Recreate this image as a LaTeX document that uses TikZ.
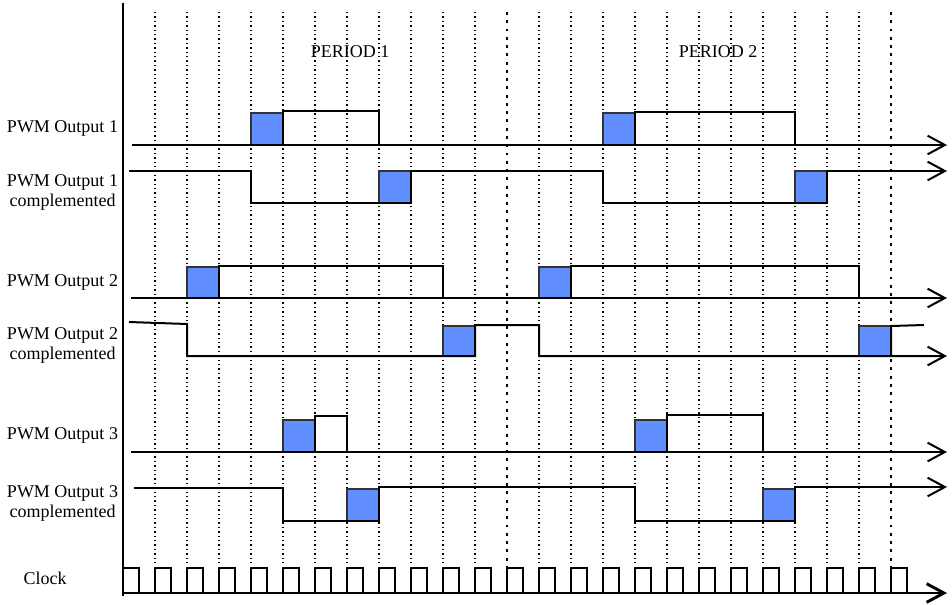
\documentclass[tikz,border=0pt]{standalone}
\usepackage{fontspec}
\setmainfont{Liberation Serif}
\usetikzlibrary{arrows.meta}
\definecolor{cajaazul}{RGB}{97,142,255}

\begin{document}
\begin{tikzpicture}[x=0.75pt, y=-0.75pt, >={Straight Barb[length=13pt,width=14pt]}, line width=1.5pt,
  caja/.style={fill=cajaazul, draw=black!80, line width=0.8pt},
  rejilla/.style={line width=1.1pt, dash pattern=on 1.1pt off 2.2pt},
  periodo/.style={line width=2.2pt, dash pattern=on 2.2pt off 4pt},
  reloj/.style={line width=1.1pt},
  etiqueta/.style={font=\fontsize{13.5}{15}\selectfont, align=center, inner sep=0pt}]
  \useasboundingbox (0,0) rectangle (952,604);
  % rejilla de ciclos de reloj
  \foreach \x in {155,187,...,475,539,571,...,859}
    \draw[rejilla] (\x,12) -- (\x,566);
  \draw[periodo] (507,12) -- (507,566);
  \draw[periodo] (891,12) -- (891,566);
  \node[etiqueta] (per1) at (350,52) {PERIOD 1};
  \node[etiqueta] (per2) at (718,52) {PERIOD 2};
  % ejes
  \draw[line width=2.2pt] (123,3) -- (123,596);
  \draw[line width=2.2pt, ->] (123,593) -- (947,593);
  % tiempos muertos
  \draw[caja] (251,113) rectangle (283,145);
  \draw[caja] (603,113) rectangle (635,145);
  \draw[caja] (379,171) rectangle (411,203);
  \draw[caja] (795,171) rectangle (827,203);
  \draw[caja] (187,267) rectangle (219,298);
  \draw[caja] (539,267) rectangle (571,298);
  \draw[caja] (443,326) rectangle (475,356);
  \draw[caja] (859,326) rectangle (891,356);
  \draw[caja] (283,420) rectangle (315,452);
  \draw[caja] (635,420) rectangle (667,452);
  \draw[caja] (347,489) rectangle (379,521);
  \draw[caja] (763,489) rectangle (795,521);
  % PWM 1
  \node[etiqueta, anchor=east] (lpwm1) at (119,128) {PWM Output 1};
  \draw[->] (132,145) -- (947,145);
  \draw (283,145) -- (283,111) -- (379,111) -- (379,145);
  \draw (635,145) -- (635,112) -- (795,112) -- (795,145);
  \node[etiqueta, anchor=east] (lpwm1c) at (119,192) {PWM Output 1\\complemented};
  \draw[->] (129,171) -- (251,171) -- (251,203) -- (411,203) -- (411,171) -- (603,171)
        -- (603,203) -- (827,203) -- (827,171) -- (947,171);
  % PWM 2
  \node[etiqueta, anchor=east] (lpwm2) at (119,282) {PWM Output 2};
  \draw[->] (131,298) -- (947,298);
  \draw (219,298) -- (219,266) -- (443,266) -- (443,298);
  \draw (571,298) -- (571,266) -- (859,266) -- (859,298);
  \node[etiqueta, anchor=east] (lpwm2c) at (119,345) {PWM Output 2\\complemented};
  \draw[->] (129,322) -- (187,324) -- (187,356) -- (475,356) -- (475,325) -- (539,325)
        -- (539,356) -- (947,356);
  \draw (891,356) -- (891,326) -- (924,325);
  % PWM 3
  \node[etiqueta, anchor=east] (lpwm3) at (119,435) {PWM Output 3};
  \draw[->] (131,452) -- (947,452);
  \draw (315,452) -- (315,416) -- (347,416) -- (347,452);
  \draw (667,452) -- (667,415) -- (763,415) -- (763,452);
  \node[etiqueta, anchor=east] (lpwm3c) at (119,503) {PWM Output 3\\complemented};
  \draw[->] (134,488) -- (283,488) -- (283,521) -- (379,521) -- (379,487) -- (635,487)
        -- (635,521) -- (795,521) -- (795,487) -- (947,487);
  % reloj
  \node[etiqueta] (lclk) at (45,578) {Clock};
  \foreach \k in {0,...,24}
    \draw[reloj] ({123+32*\k},593) -- ++(0,-25) -- ++(16,0) -- ++(0,25);
\end{tikzpicture}
\end{document}
